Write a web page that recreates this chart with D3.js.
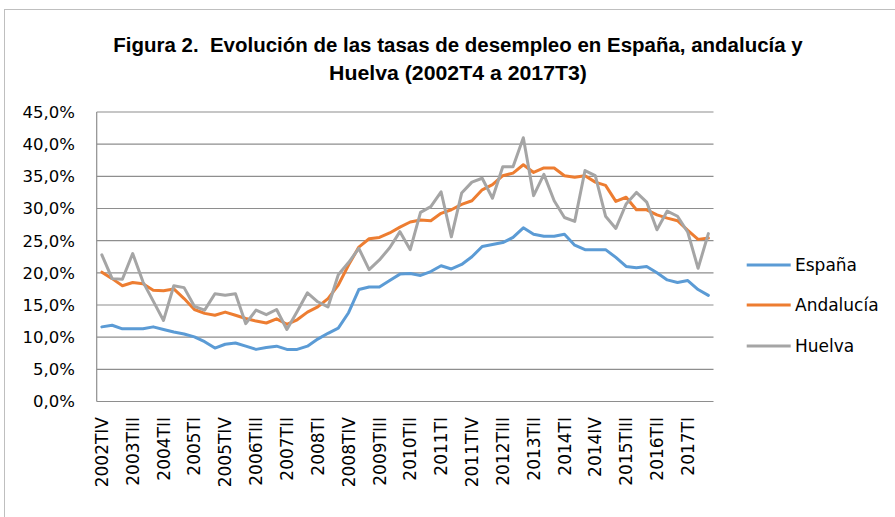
<!DOCTYPE html>
<html><head><meta charset="utf-8">
<script src="https://cdn.jsdelivr.net/npm/d3@7/dist/d3.min.js"></script>
<style>html,body{margin:0;padding:0;background:#fff;}svg{display:block;}</style>
</head><body>
<svg id="chart" width="895" height="517"></svg>
<script>
const categories = [
 "2002TIV",
 "2003TI","2003TII","2003TIII","2003TIV",
 "2004TI","2004TII","2004TIII","2004TIV",
 "2005TI","2005TII","2005TIII","2005TIV",
 "2006TI","2006TII","2006TIII","2006TIV",
 "2007TI","2007TII","2007TIII","2007TIV",
 "2008TI","2008TII","2008TIII","2008TIV",
 "2009TI","2009TII","2009TIII","2009TIV",
 "2010TI","2010TII","2010TIII","2010TIV",
 "2011TI","2011TII","2011TIII","2011TIV",
 "2012TI","2012TII","2012TIII","2012TIV",
 "2013TI","2013TII","2013TIII","2013TIV",
 "2014TI","2014TII","2014TIII","2014IV",
 "2015TI","2015TII","2015TIII","2015TIV",
 "2016TI","2016TII","2016TIII","2016TIV",
 "2017TI","2017TII","2017TIII"
];
const espana = [11.6,11.85,11.3,11.3,11.3,11.6,11.2,10.8,10.5,10.05,9.3,8.3,8.9,9.1,8.6,8.1,8.4,8.6,8.1,8.1,
 8.6,9.7,10.6,11.4,13.8,17.4,17.8,17.8,18.8,19.8,19.9,19.6,20.2,21.1,20.6,21.3,22.5,24.1,24.4,24.7,
 25.5,27.0,26.0,25.7,25.7,26.0,24.3,23.6,23.6,23.6,22.4,21.0,20.8,21.0,20.0,18.9,18.5,18.8,17.4,16.5];
const andalucia = [20.1,19.1,18.0,18.5,18.3,17.3,17.2,17.5,16.0,14.3,13.7,13.4,13.9,13.4,12.9,12.5,12.2,12.85,12.0,12.7,
 13.9,14.7,16.0,18.1,21.2,24.0,25.3,25.5,26.2,27.1,27.9,28.2,28.1,29.25,29.8,30.65,31.2,32.9,33.7,35.1,
 35.5,36.8,35.6,36.3,36.3,35.1,34.85,35.1,34.1,33.6,31.1,31.75,29.8,29.8,29.0,28.5,28.1,26.6,25.2,25.4];
const huelva = [22.8,19.1,19.0,23.0,18.6,15.6,12.6,18.0,17.7,14.8,14.2,16.75,16.5,16.75,12.1,14.2,13.5,14.3,11.2,14.0,
 16.9,15.5,14.7,19.7,21.6,23.8,20.5,22.0,23.9,26.4,23.6,29.4,30.3,32.6,25.6,32.4,34.1,34.7,31.6,36.5,
 36.5,41.0,32.0,35.3,31.2,28.6,28.0,35.9,35.1,28.8,26.9,30.7,32.5,31.0,26.7,29.6,28.8,26.3,20.7,26.1];
const yTicks = [0,5,10,15,20,25,30,35,40,45];
const yTickLabels = ["0,0%","5,0%","10,0%","15,0%","20,0%","25,0%","30,0%","35,0%","40,0%","45,0%"];
const seriesNames = ["España","Andalucía","Huelva"];
const seriesColors = ["#5B9BD5","#ED7D31","#A5A5A5"];
const titleLines = ["Figura 2.  Evolución de las tasas de desempleo en España, andalucía y","Huelva (2002T4 a 2017T3)"];

const svg = d3.select("#chart");
const pLeft = 96.7, pRight = 713.5, pTop = 112, pBottom = 401.5;

// outer border
svg.append("rect").attr("x",4.5).attr("y",9.5).attr("width",1000).attr("height",1000)
  .attr("fill","none").attr("stroke","#bfbfbf").attr("stroke-width",1);

// title (condensed horizontally to mimic a narrow font)
const titleSpecs = [{y:52, w:690},{y:80, w:258}];
const tcx = 458;
titleLines.forEach((t,i)=>{
  const g = svg.append("g");
  const el = g.append("text").attr("x",0).attr("y",0)
    .attr("text-anchor","middle").attr("font-family","'Liberation Sans',Arial,sans-serif")
    .attr("font-weight","bold").attr("font-size",19.5).attr("fill","#000")
    .attr("xml:space","preserve").style("white-space","pre").text(t);
  const len = el.node().getComputedTextLength();
  g.attr("transform",`translate(${tcx},${titleSpecs[i].y}) scale(${titleSpecs[i].w/len},1)`);
});

const x = d3.scalePoint().domain(categories).range([pLeft,pRight]).padding(0.5);
const y = d3.scaleLinear().domain([0,45]).range([pBottom,pTop]);

// gridlines
svg.append("g").selectAll("line").data(yTicks).join("line")
  .attr("x1",pLeft).attr("x2",pRight).attr("y1",d=>y(d)).attr("y2",d=>y(d))
  .attr("stroke","#8e8e8e").attr("stroke-width",1.2);

// y axis line
svg.append("line").attr("x1",pLeft).attr("x2",pLeft).attr("y1",pTop).attr("y2",pBottom)
  .attr("stroke","#8e8e8e").attr("stroke-width",1.2);

// y labels
svg.append("g").selectAll("text").data(yTicks).join("text")
  .attr("x",75).attr("y",d=>y(d)).attr("dy","0.36em").attr("text-anchor","end")
  .attr("font-family","'DejaVu Sans',sans-serif").attr("font-size",16.5).attr("fill","#000")
  .text((d,i)=>yTickLabels[i]);

// x labels every 3rd category
const xLab = categories.filter((c,i)=>i%3===0);
svg.append("g").selectAll("text").data(xLab).join("text")
  .attr("transform",d=>`translate(${x(d)},417) rotate(-90)`)
  .attr("dy","0.36em").attr("text-anchor","end")
  .attr("font-family","'DejaVu Sans',sans-serif").attr("font-size",17).attr("fill","#000")
  .text(d=>d);

// lines
const all = [espana, andalucia, huelva];
const line = d3.line().x((d,i)=>x(categories[i])).y(d=>y(d));
all.forEach((s,k)=>{
  svg.append("path").datum(s).attr("d",line).attr("fill","none")
    .attr("stroke",seriesColors[k]).attr("stroke-width",3)
    .attr("stroke-linejoin","round").attr("stroke-linecap","round");
});

// legend
const legY = [265,305,346];
seriesNames.forEach((n,k)=>{
  svg.append("line").attr("x1",746.7).attr("x2",790.7).attr("y1",legY[k]).attr("y2",legY[k])
    .attr("stroke",seriesColors[k]).attr("stroke-width",3);
  svg.append("text").attr("x",795).attr("y",legY[k]).attr("dy","0.36em")
    .attr("font-family","'DejaVu Sans',sans-serif").attr("font-size",17).attr("fill","#000").text(n);
});
</script>
</body></html>
